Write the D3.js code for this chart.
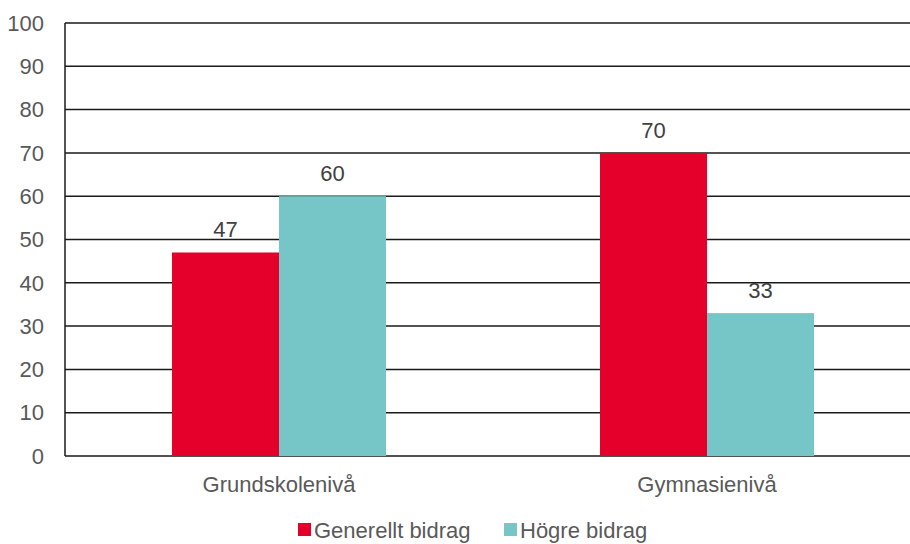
<!DOCTYPE html>
<html>
<head>
<meta charset="utf-8">
<script src="https://cdn.jsdelivr.net/npm/d3@7"></script>
<style>
  body { margin: 0; background: #fff; }
  text { font-family: "Liberation Sans", Arial, sans-serif; }
</style>
</head>
<body>
<svg></svg>
<script>
const categories = ["Grundskolenivå", "Gymnasienivå"];
const seriesNames = ["Generellt bidrag", "Högre bidrag"];
const generellt = [47, 70];
const hogre = [60, 33];
const yTicks = [0, 10, 20, 30, 40, 50, 60, 70, 80, 90, 100];
const colors = ["#E4002B", "#76C6C7"];

const width = 910, height = 544;
const svg = d3.select("svg").attr("width", width).attr("height", height);

const plotLeft = 65, plotRight = 921, plotTop = 23, plotBottom = 456;

const x0 = d3.scaleBand().domain(categories).range([plotLeft, plotRight])
    .paddingInner(0.5).paddingOuter(0.25);
const x1 = d3.scaleBand().domain(seriesNames).range([0, x0.bandwidth()]);
const y = d3.scaleLinear().domain([0, 100]).range([plotBottom, plotTop]);

// gridlines
svg.append("g").selectAll("line").data(yTicks).join("line")
    .attr("x1", plotLeft).attr("x2", plotRight)
    .attr("y1", d => y(d)).attr("y2", d => y(d))
    .attr("stroke", "#1a1a1a").attr("stroke-width", 1.5);

// y axis line
svg.append("line").attr("x1", plotLeft).attr("x2", plotLeft)
    .attr("y1", y(100)).attr("y2", y(0))
    .attr("stroke", "#1a1a1a").attr("stroke-width", 1.5);

// y tick labels
svg.append("g").selectAll("text").data(yTicks).join("text")
    .attr("x", 44).attr("y", d => y(d))
    .attr("dy", "0.35em").attr("text-anchor", "end")
    .attr("font-size", 22).attr("fill", "#595959")
    .text(d => d);

const rows = categories.map((c, i) => ({cat: c, vals: [generellt[i], hogre[i]]}));

const groups = svg.append("g").selectAll("g").data(rows).join("g")
    .attr("transform", d => `translate(${x0(d.cat)},0)`);

groups.selectAll("rect").data(d => d.vals.map((v, j) => ({name: seriesNames[j], v, j}))).join("rect")
    .attr("x", d => x1(d.name)).attr("width", x1.bandwidth())
    .attr("y", d => y(d.v)).attr("height", d => y(0) - y(d.v))
    .attr("fill", d => colors[d.j]);

groups.selectAll("text.val").data(d => d.vals.map((v, j) => ({name: seriesNames[j], v, j}))).join("text")
    .attr("class", "val")
    .attr("x", d => x1(d.name) + x1.bandwidth() / 2)
    .attr("y", d => y(d.v) - 15)
    .attr("text-anchor", "middle").attr("font-size", 22).attr("fill", "#404040")
    .text(d => d.v);

// category labels
svg.append("g").selectAll("text").data(categories).join("text")
    .attr("x", d => x0(d) + x0.bandwidth() / 2).attr("y", 492)
    .attr("text-anchor", "middle").attr("font-size", 22).attr("fill", "#595959")
    .text(d => d);

// legend
const legendX = [298, 504];
const legend = svg.append("g").selectAll("g").data(seriesNames).join("g")
    .attr("transform", (d, i) => `translate(${legendX[i]},523)`);
legend.append("rect").attr("width", 13).attr("height", 13)
    .attr("fill", (d, i) => colors[i]);
legend.append("text").attr("x", 16).attr("y", 15)
    .attr("font-size", 22).attr("fill", "#595959")
    .text(d => d);
</script>
</body>
</html>
